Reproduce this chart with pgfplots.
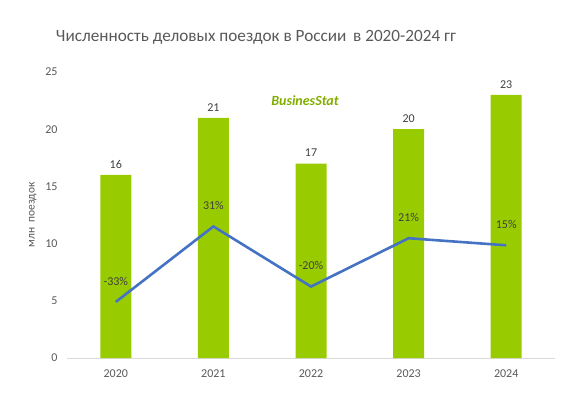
\documentclass[border=0pt]{standalone}
\usepackage{pgfplots}
\pgfplotsset{compat=1.18}
\usepackage{fontspec}
\setmainfont{Carlito}
\definecolor{bargreen}{HTML}{99CC00}
\definecolor{lineblue}{HTML}{4472C4}
\definecolor{txtgrey}{HTML}{595959}
\definecolor{axgrey}{HTML}{D9D9D9}
\begin{document}
\begin{tikzpicture}[x=1pt,y=1pt]
\useasboundingbox (0,0) rectangle (567,397);
\node[font=\fontsize{17.2}{20}\selectfont, text=txtgrey] at (256,360) {Численность деловых поездок в России \,в 2020-2024 гг};
\begin{axis}[
  at={(67pt,39pt)}, anchor=south west,
  scale only axis, width=488pt, height=286pt,
  xmin=-0.5, xmax=4.5, ymin=0, ymax=25,
  xtick={0,1,2,3,4}, xticklabels={2020,2021,2022,2023,2024},
  ytick={0,5,10,15,20,25},
  axis line style={draw=none},
  axis x line*=bottom, axis y line*=left,
  x axis line style={draw=axgrey, line width=0.8pt},
  major tick length=0pt,
  tick label style={font=\fontsize{12}{13}\selectfont, text=txtgrey},
  /pgf/number format/assume math mode=true,
  ylabel={млн\ \ поездок}, ylabel style={font=\fontsize{11.5}{12}\selectfont, text=txtgrey, xshift=0pt, yshift=2pt},
  yticklabel style={xshift=-6pt},
  xticklabel style={yshift=-8pt},
  clip=false,
]
\addplot[ybar, bar width=31pt, fill=bargreen, draw=none,
  nodes near coords, nodes near coords style={font=\fontsize{12}{13}\selectfont, text=black!75, yshift=3pt}]
  coordinates {(0,16) (1,21) (2,17) (3,20) (4,23)};
\end{axis}
\begin{axis}[
  at={(67pt,39pt)}, anchor=south west,
  scale only axis, width=488pt, height=286pt,
  xmin=-0.5, xmax=4.5, ymin=-80.6, ymax=162,
  hide axis, clip=false,
]
\addplot[lineblue, line width=2.6pt, mark=none,
  nodes near coords, point meta=explicit symbolic,
  nodes near coords style={font=\fontsize{12}{13}\selectfont, text=black!75, anchor=south, yshift=12pt}]
  coordinates {(0,-33)[-33\%] (1,31)[31\%] (2,-20)[-20\%] (3,21)[21\%] (4,15)[15\%]};
\end{axis}
\node[font=\fontsize{14}{15}\selectfont\bfseries\itshape, text=bargreen!85!black] at (305,296) {BusinesStat};
\end{tikzpicture}
\end{document}
